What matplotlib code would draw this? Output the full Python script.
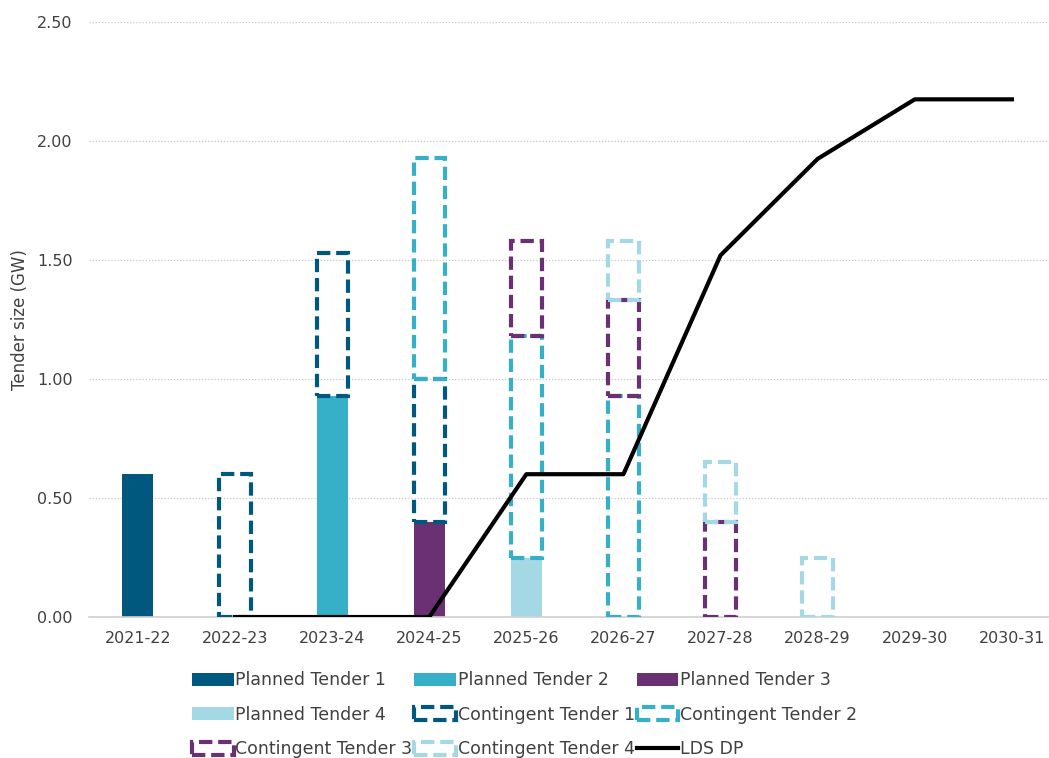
import matplotlib.pyplot as plt
from matplotlib.ticker import FormatStrFormatter
import numpy as np

years = ['2021-22', '2022-23', '2023-24', '2024-25', '2025-26',
         '2026-27', '2027-28', '2028-29', '2029-30', '2030-31']

planned_1 = [0.60, 0, 0, 0, 0, 0, 0, 0, 0, 0]
planned_2 = [0, 0, 0.93, 0, 0, 0, 0, 0, 0, 0]
planned_3 = [0, 0, 0, 0.40, 0, 0, 0, 0, 0, 0]
planned_4 = [0, 0, 0, 0, 0.25, 0, 0, 0, 0, 0]
contingent_1 = [0, 0.60, 0.60, 0.60, 0, 0, 0, 0, 0, 0]
contingent_2 = [0, 0, 0, 0.93, 0.93, 0.93, 0, 0, 0, 0]
contingent_3 = [0, 0, 0, 0, 0.40, 0.40, 0.40, 0, 0, 0]
contingent_4 = [0, 0, 0, 0, 0, 0.25, 0.25, 0.25, 0, 0]
lds_dp = [np.nan, 0.0, 0.0, 0.0, 0.60, 0.60, 1.52, 1.925, 2.175, 2.175]

colors = ['#00587f', '#36b0c9', '#6b3074', '#a5d8e5']
text_col = '#404040'

plt.rcParams['font.family'] = ['DejaVu Sans']

fig = plt.figure(figsize=(10.49, 7.58), dpi=100)
ax = fig.add_axes([0.0852, 0.186, 0.9257, 0.785])

x = np.arange(len(years))
w = 0.32
bottom = np.zeros(len(years))
handles = {}

planned = [planned_1, planned_2, planned_3, planned_4]
for i, vals in enumerate(planned):
    vals = np.array(vals)
    b = ax.bar(x, vals, w, bottom=bottom, color=colors[i], linewidth=0,
               label=f'Planned Tender {i + 1}', zorder=2)
    handles[f'Planned Tender {i + 1}'] = b
    bottom += vals

contingent = [contingent_1, contingent_2, contingent_3, contingent_4]
for i, vals in enumerate(contingent):
    vals = np.array(vals)
    mask = vals > 0
    b = ax.bar(x[mask], vals[mask], w, bottom=bottom[mask], facecolor='none',
               edgecolor=colors[i], linewidth=3, linestyle=(0, (3.2, 1.4)),
               label=f'Contingent Tender {i + 1}', zorder=3)
    handles[f'Contingent Tender {i + 1}'] = b
    bottom += vals

line, = ax.plot(x, lds_dp, color='black', linewidth=3, label='LDS DP', zorder=4)
handles['LDS DP'] = line

ax.set_xlim(-0.5, len(years) - 0.5)
ax.set_ylim(0, 2.5)
ax.set_yticks(np.arange(0, 2.51, 0.5))
ax.yaxis.set_major_formatter(FormatStrFormatter('%.2f'))
ax.set_xticks(x)
ax.set_xticklabels(years)
ax.tick_params(length=0, colors=text_col, labelsize=11.5)
ax.tick_params(axis='x', pad=10)
ax.tick_params(axis='y', pad=12)
ax.grid(axis='y', color='#c8c8c8', linestyle=(0, (1, 1.5)), linewidth=0.9, zorder=0)
for s in ['top', 'right', 'left']:
    ax.spines[s].set_visible(False)
ax.spines['bottom'].set_color('#d0d0d0')
ax.spines['bottom'].set_linewidth(1.2)
ax.set_ylabel('Tender size (GW)', color=text_col, fontsize=12, labelpad=6)

# legend is row-major in the reference; matplotlib fills columns first
row_order = ['Planned Tender 1', 'Planned Tender 2', 'Planned Tender 3',
             'Planned Tender 4', 'Contingent Tender 1', 'Contingent Tender 2',
             'Contingent Tender 3', 'Contingent Tender 4', 'LDS DP']
col_order = [row_order[r * 3 + c] for c in range(3) for r in range(3)]
leg = fig.legend([handles[k] for k in col_order], col_order, ncol=3,
                 loc='center', bbox_to_anchor=(0.500, 0.057), frameon=False,
                 handlelength=2.4, handleheight=0.75, handletextpad=0.1,
                 columnspacing=0.1, labelspacing=0.95, fontsize=12.5)
for t in leg.get_texts():
    t.set_color(text_col)

fig.savefig('out.png', dpi=100)
